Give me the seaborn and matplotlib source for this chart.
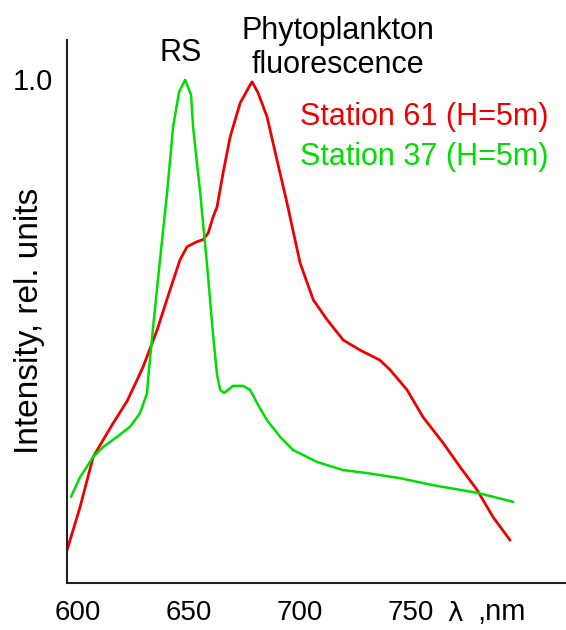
import pandas as pd
import matplotlib
matplotlib.use('Agg')
import matplotlib.pyplot as plt
import seaborn as sns

# wavelength (nm) and relative intensity
red_nm = [595.0, 600.9, 606.8, 611.3, 615.8, 622.1, 626.6, 629.3, 635.6, 641.4,
          645.9, 649.1, 653.6, 656.3, 658.6, 660.8, 662.6, 665.3, 668.5, 673.0,
          677.5, 678.4, 681.1, 685.1, 689.6, 694.1, 700.0, 705.9, 712.2, 719.4,
          727.0, 736.0, 740.5, 748.2, 755.4, 764.4, 772.1, 779.7, 786.9, 794.6]
red_val = [0.065, 0.151, 0.250, 0.284, 0.317, 0.361, 0.403, 0.429, 0.502, 0.581,
           0.641, 0.667, 0.677, 0.681, 0.694, 0.726, 0.746, 0.813, 0.885, 0.952,
           0.988, 0.994, 0.972, 0.925, 0.839, 0.754, 0.635, 0.562, 0.522, 0.482,
           0.462, 0.442, 0.423, 0.383, 0.329, 0.278, 0.230, 0.185, 0.131, 0.085]

green_nm = [596.8, 600.9, 606.8, 611.3, 617.6, 623.4, 627.9, 631.1, 631.5, 633.8,
            636.9, 640.1, 642.8, 645.5, 648.2, 650.9, 651.8, 655.0, 658.1, 660.8,
            662.6, 664.0, 665.8, 669.8, 674.3, 677.5, 681.1, 685.1, 691.0, 696.8,
            707.7, 719.4, 730.2, 745.0, 759.9, 779.7, 796.0]
green_val = [0.171, 0.210, 0.250, 0.270, 0.290, 0.310, 0.337, 0.377, 0.403, 0.508,
             0.641, 0.774, 0.905, 0.974, 0.998, 0.968, 0.905, 0.774, 0.631, 0.492,
             0.413, 0.383, 0.377, 0.391, 0.391, 0.383, 0.353, 0.323, 0.290, 0.264,
             0.240, 0.224, 0.218, 0.208, 0.194, 0.179, 0.161]

xtick_vals = [600, 650, 700, 750]
labels = ['Station 61 (H=5m)', 'Station 37 (H=5m)']
colors = ['#ee0000', '#00dd00']

sns.set_style('white')
plt.rcParams['font.family'] = ['Liberation Sans', 'DejaVu Sans']
plt.rcParams['text.color'] = 'black'

fig = plt.figure(figsize=(5.66, 6.30), dpi=100)
ax = fig.add_axes([67 / 566, 47 / 630, 499 / 566, 543 / 630])

red = pd.DataFrame({'nm': red_nm, 'val': red_val})
green = pd.DataFrame({'nm': green_nm, 'val': green_val})
sns.lineplot(data=red, x='nm', y='val', ax=ax, color=colors[0], linewidth=2.0)
sns.lineplot(data=green, x='nm', y='val', ax=ax, color=colors[1], linewidth=1.8)

ax.set_xlim(595.0, 819.8)
ax.set_ylim(0, 1.077)
ax.set_xlabel('')
ax.set_ylabel('')

ax.set_xticks(xtick_vals)
ax.set_xticklabels([str(v) for v in xtick_vals], fontsize=20)
ax.set_yticks([1.0])
ax.set_yticklabels(['1.0'], fontsize=21)
ax.tick_params(axis='x', length=0, pad=12, labelcolor='black')
ax.tick_params(axis='y', direction='in', length=6, width=1.2, color='#222222',
               pad=10, labelcolor='black')

sns.despine(ax=ax)
for s in ['left', 'bottom']:
    ax.spines[s].set_color('#222222')
    ax.spines[s].set_linewidth(1.5)

# wavelength label sits on the tick-label row
fig.text(447 / 566, 1 - 614 / 630, '\u03bb', family='DejaVu Sans', fontsize=19,
         ha='left', va='center')
fig.text(477 / 566, 1 - 612 / 630, ',nm', fontsize=21, ha='left', va='center')
fig.text(30 / 566, 1 - 321 / 630, 'Intensity, rel. units', rotation=90,
         fontsize=24, ha='center', va='center')

fig.text(181 / 566, 1 - 53 / 630, 'RS', fontsize=22, ha='center', va='center')
fig.text(338 / 566, 1 - 31 / 630, 'Phytoplankton', fontsize=22,
         ha='center', va='center')
fig.text(338 / 566, 1 - 65 / 630, 'fluorescence', fontsize=22,
         ha='center', va='center')

fig.text(424 / 566, 1 - 117 / 630, labels[0], color=colors[0], fontsize=22,
         ha='center', va='center')
fig.text(424 / 566, 1 - 157 / 630, labels[1], color=colors[1], fontsize=22,
         ha='center', va='center')

fig.savefig('out.png', dpi=100)
